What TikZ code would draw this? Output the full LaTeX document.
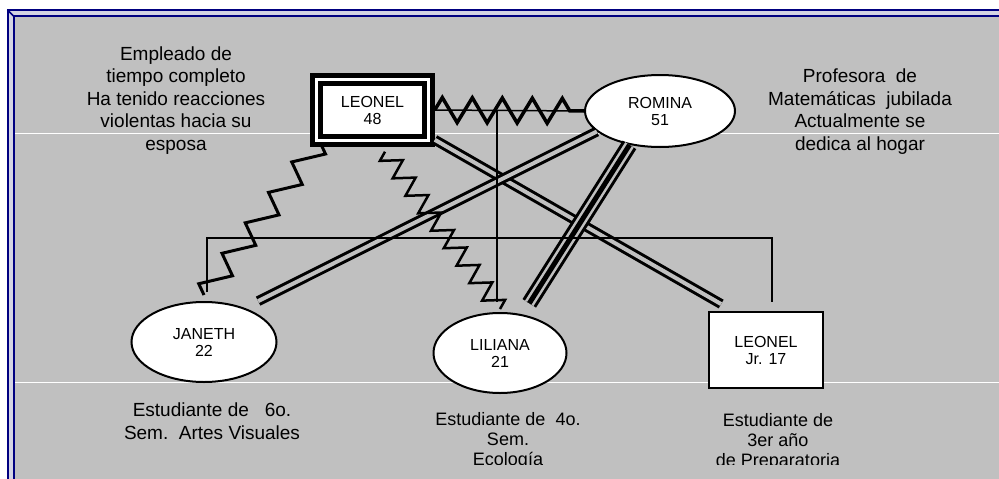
\documentclass[tikz,border=0pt]{standalone}
\usepackage{fontspec}
\setmainfont{Liberation Sans}
\usetikzlibrary{shapes.geometric,decorations.pathmorphing,calc}
\definecolor{fondo}{HTML}{C0C0C0}
\definecolor{marco}{HTML}{000080}
\definecolor{marcoclaro}{HTML}{D4D4E4}

\begin{document}
\begin{tikzpicture}[x=1pt, y=-1pt,
	hombre/.style={draw, line width=2pt, fill=white, minimum width=114pt, minimum height=76pt, inner sep=0pt, align=center, font=\fontsize{16}{17}\selectfont},
	mujer/.style={ellipse, draw, line width=2pt, fill=white, inner sep=0pt, align=center, font=\fontsize{16}{17}\selectfont},
	nota/.style={align=center, font=\fontsize{19}{22.5}\selectfont},
	notab/.style={align=center, font=\fontsize{18}{20}\selectfont},
	violencia/.style={line width=3pt, line join=miter},
	union/.style={line width=3pt, double=fondo, double distance=4pt},
	fusion/.style={line width=3pt, double=fondo, double distance=10pt},
	lazo/.style={line width=1.5pt}]
				\useasboundingbox (0,0) rectangle (999,479);
				
				% 1. 背景与边框
				\fill[white] (0,0) rectangle (999,479);
				\fill[marcoclaro] (7.5,10) rectangle (999,479);
				\fill[fondo] (13.5,16) rectangle (999,479);
				\draw[marco, line width=2pt] (7.5,479) -- (7.5,10) -- (999,10);
				\draw[marco, line width=2pt] (13.5,479) -- (13.5,16) -- (999,16);
				\draw[marco, line width=1.5pt] (7.5,10) -- (13.5,16);
				\draw[white, line width=1pt] (15,133) -- (999,133);
				\draw[white, line width=1pt] (15,382) -- (999,382);
				
				% 2. 家庭成员
				\node[hombre, line width=4.5pt, double, double distance=3.5pt, minimum width=112pt, minimum height=61pt, outer sep=6.25pt] (leonel) at (372.5,110) {LEONEL\\48};
				\node[mujer, minimum width=150pt, minimum height=72pt] (romina) at (660,111) {ROMINA\\51};
				\node[mujer, minimum width=145pt, minimum height=80pt] (janeth) at (204,342) {JANETH\\22};
				\node[mujer, minimum width=133pt, minimum height=80pt] (liliana) at (500,353) {LILIANA\\21};
				\node[hombre] (leonelJr) at (766,350) {LEONEL\\Jr. 17};
				
				% 3. 说明文字
				\node[nota] (notaLeonel) at (176,100.5) {Empleado de\\tiempo completo\\Ha tenido reacciones\\ violentas hacia su\\esposa};
				\node[nota] (notaRomina) at (860,111.5) {Profesora\ \ de\\Matemáticas\ \ jubilada\\Actualmente se\\dedica al hogar};
				\begin{scope}
					\clip (0,0) rectangle (999,464);
					\node[nota, font=\fontsize{19}{23}\selectfont] (notaJaneth) at (212,421.5) {Estudiante de\ \ \ 6o.\\Sem.\ \ Artes Visuales};
					\node[notab] (notaLiliana) at (508,441) {Estudiante de\ \ 4o.\\Sem.\\Ecología};
					\node[notab] (notaJr) at (778,442) {Estudiante de\\3er año\\de Preparatoria};
				\end{scope}
				
				% 4. 亲密关系 (双线与三线)
				\draw[union, shorten >=14pt] ([yshift=7pt]leonel.south east) -- (leonelJr.130);
				\draw[union, shorten >=15pt] (romina.198) -- (janeth.40);
				\draw[fusion, shorten >=13pt] (romina.228) -- (liliana.60);
				\draw[line width=5pt, shorten >=13pt] (romina.228) -- (liliana.60);
				
				% 5. 婚姻线与子女线
				\coordinate (hijos) at (497,110);
				\coordinate (hermanos) at (497,238);
				\coordinate (bajaJaneth) at (207,292);
				\coordinate (bajaLiliana) at (497,302);
				\coordinate (bajaJr) at (772,302);
				\draw[lazo] (leonel.east) -- (romina.west);
				\draw[lazo] (hijos) -- (bajaLiliana);
				\draw[lazo] (bajaJaneth) |- (hermanos) -| (bajaJr);
				
				% 6. 暴力关系 (锯齿线)
				\draw[violencia, line width=3.5pt, decorate, decoration={zigzag, segment length=30pt, amplitude=12.5pt}] (leonel.east) -- (romina.west);
				% 斜向锯齿: 长短边交替
				\coordinate (zjA) at ([xshift=10pt,yshift=4pt]leonel.south west);
				\coordinate (zjB) at ([yshift=6pt]janeth.north);
				\draw[violencia] (zjA) \foreach \k in {0,...,4} {
					-- ($(zjA)!{(\k+0.15)/5}!(zjB)!11pt!90:(zjB)$)
					-- ($(zjA)!{(\k+0.85)/5}!(zjB)!-11pt!90:(zjB)$)} -- (zjB);
				\coordinate (zlA) at ([xshift=12.5pt,yshift=-5pt]leonel.south);
				\coordinate (zlB) at ([yshift=3pt]liliana.north);
				\draw[violencia, line width=2.5pt] (zlA) \foreach \k in {0,...,8} {
					-- ($(zlA)!{(\k+0.2)/9}!(zlB)!-9.5pt!90:(zlB)$)
					-- ($(zlA)!{(\k+0.8)/9}!(zlB)!9.5pt!90:(zlB)$)} -- (zlB);
			\end{tikzpicture}
\end{document}
